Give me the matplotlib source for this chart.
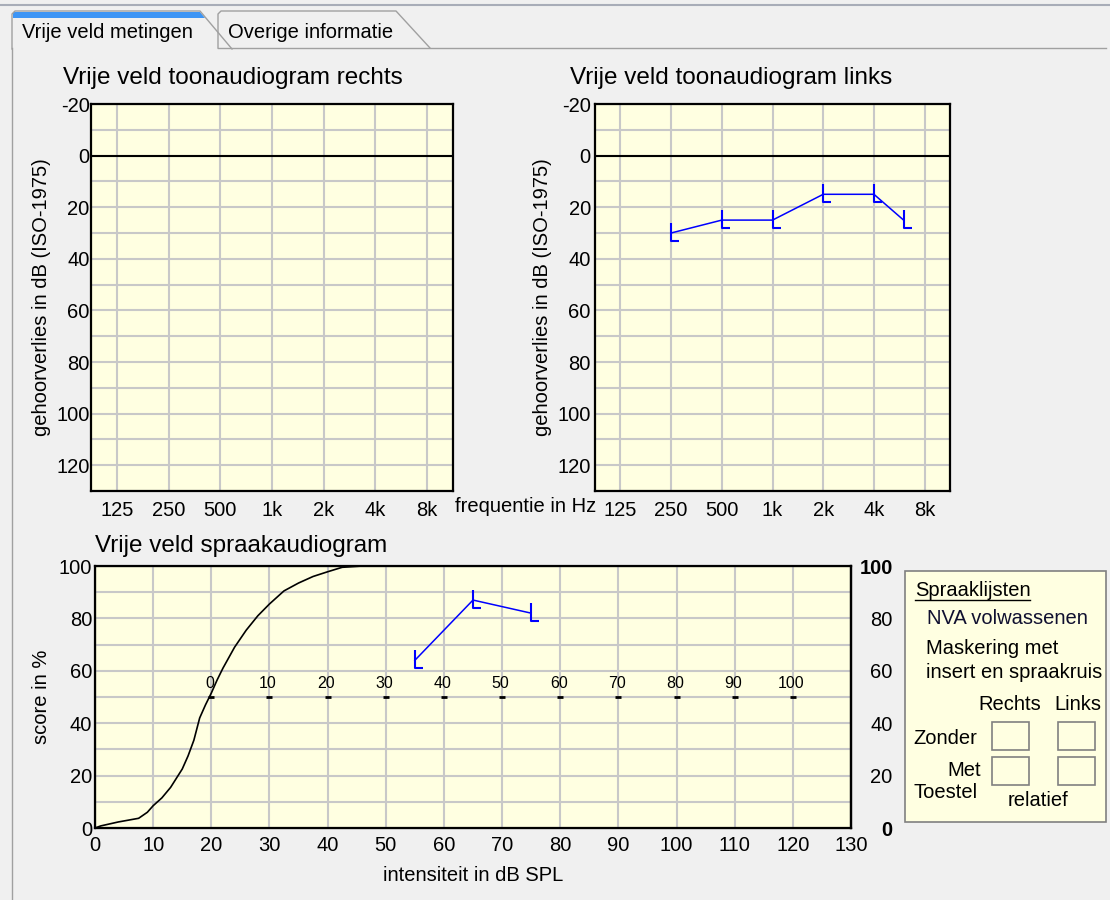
import matplotlib
matplotlib.use('Agg')
import numpy as np
import matplotlib.pyplot as plt
from matplotlib.path import Path
from matplotlib.patches import Polygon, Rectangle

plt.rcParams['font.family'] = ['Liberation Sans', 'DejaVu Sans']

# ---- data ----
FREQ_HZ = [125, 250, 500, 1000, 2000, 4000, 8000]
FREQ_LABELS = ['125', '250', '500', '1k', '2k', '4k', '8k']
DB_TICKS = [-20, 0, 20, 40, 60, 80, 100, 120]

# free field, left ear
LEFT_FREQ = [250, 500, 1000, 2000, 4000, 6000]
LEFT_DB = [30, 25, 25, 15, 15, 25]

# speech audiogram
SPL_TICKS = list(range(0, 131, 10))
SCORE_TICKS = [0, 20, 40, 60, 80, 100]
REF_SPL = [0, 1, 4, 7.5, 9, 10, 11.5, 13, 14, 15, 16, 17, 18, 19, 20, 21, 22,
           24, 26, 28, 30, 32.5, 35, 37.5, 40, 42.5, 46]
REF_SCORE = [0, 0.8, 2.3, 3.7, 6, 8.5, 11.5, 15.5, 19, 22.5, 27.5, 33.5, 42, 47,
             51.5, 56.5, 61, 69, 75.5, 81, 85.5, 90.5, 93.5, 96, 97.8, 99.5, 100]
SPEECH_SPL = [55, 65, 75]
SPEECH_SCORE = [64, 87, 82]
REL_ZERO = 20          # dB SPL where the reference curve crosses 50 %
REL_LABELS = [0, 10, 20, 30, 40, 50, 60, 70, 80, 90, 100]

BG = '#f0f0f0'
PLOT_BG = '#ffffe1'
GRID = '#c8c8c8'
BLUE = '#0000ff'
EDGE = '#a0a0a0'
FS = 14.5

W, H = 1110, 900

# "L" shaped symbol used for free field measurements
L_MARK = Path([(0, 1.0), (0, -0.75), (0.8, -0.75)],
              [Path.MOVETO, Path.LINETO, Path.LINETO])


def px_axes(fig, x0, y0, x1, y1):
    return fig.add_axes([x0 / W, 1 - y1 / H, (x1 - x0) / W, (y1 - y0) / H])


def style(ax):
    ax.set_facecolor(PLOT_BG)
    for s in ax.spines.values():
        s.set_linewidth(1.6)
        s.set_color('black')
    ax.tick_params(which='both', length=0, labelsize=FS)
    ax.grid(True, which='both', color=GRID, linewidth=1.5)
    ax.set_axisbelow(True)


def audiogram(ax, pad):
    style(ax)
    oct_pos = np.log2(np.array(FREQ_HZ) / 125)
    ax.set_xlim(-0.5, 6.5)
    ax.set_ylim(130, -20)
    ax.set_xticks(oct_pos, FREQ_LABELS)
    ax.set_yticks(DB_TICKS, [str(v) for v in DB_TICKS])
    ax.set_yticks(np.arange(-10, 131, 20), minor=True)
    ax.tick_params(axis='x', pad=7)
    ax.tick_params(axis='y', pad=pad)
    ax.axhline(0, color='black', linewidth=1.5)
    ax.set_ylabel('gehoorverlies in dB (ISO-1975)', fontsize=FS, labelpad=4)


def tab(ax, pts):
    ax.add_patch(Polygon(pts, closed=True, facecolor=BG, edgecolor='none'))
    xs, ys = zip(*pts)
    ax.plot(xs, ys, color=EDGE, linewidth=1)


fig = plt.figure(figsize=(W / 100, H / 100), dpi=100)
fig.patch.set_facecolor(BG)

# ---- window chrome: tabs, panel ----
bg = fig.add_axes([0, 0, 1, 1], zorder=-1)
bg.set_xlim(0, W)
bg.set_ylim(H, 0)
bg.axis('off')
bg.plot([0, W], [5, 5], color='#a8adb8', linewidth=1.5)
bg.plot([218, 1106], [48, 48], color=EDGE, linewidth=1)
bg.plot([12, 12], [48, H], color=EDGE, linewidth=1)
tab(bg, [(12, 49), (12, 14), (15, 11), (200, 11), (232, 49)])
tab(bg, [(218, 48), (218, 14), (221, 11), (396, 11), (430, 48)])
bg.add_patch(Polygon([(13, 12), (200, 12), (205, 18), (13, 18)],
                     closed=True, facecolor='#3d95f5', edgecolor='none'))
bg.text(22, 33, 'Vrije veld metingen', fontsize=FS, va='center')
bg.text(228, 33, 'Overige informatie', fontsize=FS, va='center')

# titles
bg.text(63, 78, 'Vrije veld toonaudiogram rechts', fontsize=17.5, va='center')
bg.text(570, 78, 'Vrije veld toonaudiogram links', fontsize=17.5, va='center')
bg.text(95, 546, 'Vrije veld spraakaudiogram', fontsize=17.5, va='center')
bg.text(455, 507, 'frequentie in Hz', fontsize=FS, va='center')

# ---- audiograms ----
ax_r = px_axes(fig, 91, 104, 453, 491)
audiogram(ax_r, 1)

ax_l = px_axes(fig, 595, 104, 950, 491)
audiogram(ax_l, 3)
ax_l.plot(np.log2(np.array(LEFT_FREQ) / 125), LEFT_DB, color=BLUE, linewidth=1.1,
          marker=L_MARK, markersize=14.4, markerfacecolor='none',
          markeredgecolor=BLUE, markeredgewidth=1.5, zorder=5)

# ---- speech audiogram ----
ax_s = px_axes(fig, 95, 566, 851, 828)
style(ax_s)
ax_s.set_xlim(0, 130)
ax_s.set_ylim(0, 100)
ax_s.set_xticks(SPL_TICKS, [str(v) for v in SPL_TICKS])
ax_s.set_yticks(SCORE_TICKS, [str(v) for v in SCORE_TICKS])
ax_s.set_yticks(np.arange(10, 100, 20), minor=True)
ax_s.tick_params(axis='y', pad=2)
ax_s.tick_params(axis='x', pad=6)
ax_s.set_xlabel('intensiteit in dB SPL', fontsize=FS, labelpad=8)
ax_s.set_ylabel('score in %', fontsize=FS, labelpad=6)

ax_s.plot(REF_SPL, REF_SCORE, color='black', linewidth=1.2, zorder=4)

rel_x = [REL_ZERO + v for v in REL_LABELS]
ax_s.plot(rel_x, [50] * len(rel_x), linestyle='none', marker='_',
          markersize=4, markeredgewidth=2, color='black', zorder=4)
for x, v in zip(rel_x, REL_LABELS):
    ax_s.annotate(str(v), (x, 50), xytext=(-1, 10), textcoords='offset points',
                  ha='center', va='center', fontsize=11.5)

ax_s.plot(SPEECH_SPL, SPEECH_SCORE, color=BLUE, linewidth=1.1,
          marker=L_MARK, markersize=14.4, markerfacecolor='none',
          markeredgecolor=BLUE, markeredgewidth=1.5, zorder=5)

ax_s2 = ax_s.twinx()
ax_s2.set_ylim(0, 100)
ax_s2.set_yticks(SCORE_TICKS, [str(v) for v in SCORE_TICKS])
ax_s2.tick_params(length=0, labelsize=FS, pad=30)
ax_s2.spines['right'].set_linewidth(1.6)
r_labels = ax_s2.get_yticklabels()
plt.setp(r_labels, ha='right')
r_labels[0].set_fontweight('bold')
r_labels[-1].set_fontweight('bold')

# ---- speech list info box ----
bg.add_patch(Rectangle((905, 571), 201, 251, facecolor='#ffffe1',
                       edgecolor='#808080', linewidth=1.2))
bg.text(915, 591, 'Spraaklijsten', fontsize=FS, va='center')
bg.plot([915, 1030], [600, 600], color='black', linewidth=1)
bg.text(927, 618, 'NVA volwassenen', fontsize=FS, va='center', color='#101030')
bg.text(926, 648, 'Maskering met', fontsize=FS, va='center')
bg.text(926, 672, 'insert en spraakruis', fontsize=FS, va='center')
bg.text(978, 705, 'Rechts', fontsize=FS, va='center')
bg.text(1054, 705, 'Links', fontsize=FS, va='center')
bg.text(913, 738, 'Zonder', fontsize=FS, va='center')
bg.text(981, 770, 'Met', fontsize=FS, va='center', ha='right')
bg.text(913, 793, 'Toestel', fontsize=FS, va='center')
bg.text(1008, 800, 'relatief', fontsize=FS, va='center')
for bx in (992, 1058):
    for by in (722, 757):
        bg.add_patch(Rectangle((bx, by), 37, 28, facecolor='none',
                               edgecolor='#808080', linewidth=1.2))

fig.savefig('out.png', dpi=100, facecolor=BG)
